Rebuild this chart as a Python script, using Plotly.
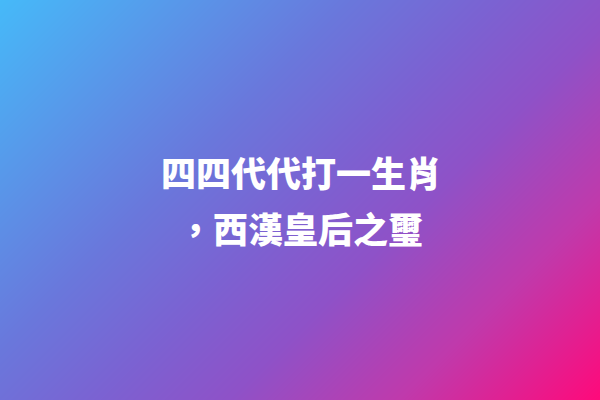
import numpy as np
import plotly.graph_objects as go

W, H = 600, 400

# Title lines (text content)
title_lines = ["四四代代打一生肖", "，西漢皇后之璽"]

# Background gradient stops (position along 135deg diagonal, RGB)
stop_pos = [0.0, 0.35, 0.5, 0.63, 0.8, 1.0]
stop_r = [70, 106, 124, 143, 192, 255]
stop_g = [186, 120, 98, 82, 58, 10]
stop_b = [249, 220, 210, 200, 172, 123]

xs = np.arange(W)
ys = np.arange(H)
X, Y = np.meshgrid(xs, ys)
t = (X + Y) / float(W + H - 2)
img = np.zeros((H, W, 3), dtype=np.uint8)
img[..., 0] = np.interp(t, stop_pos, stop_r).astype(np.uint8)
img[..., 1] = np.interp(t, stop_pos, stop_g).astype(np.uint8)
img[..., 2] = np.interp(t, stop_pos, stop_b).astype(np.uint8)

fig = go.Figure(go.Image(z=img, x0=0, y0=0, dx=1, dy=1, hoverinfo="skip"))

line_y = [171, 227]
for txt, yy in zip(title_lines, line_y):
    fig.add_annotation(
        x=300, y=yy, xref="x", yref="y", text=txt, showarrow=False,
        font=dict(family="Noto Sans CJK TC, Noto Sans CJK SC", size=35, color="white", weight=900),
        xanchor="center", yanchor="middle",
    )

fig.update_layout(
    width=W, height=H,
    margin=dict(l=0, r=0, t=0, b=0),
    paper_bgcolor="#7c62d2",
    plot_bgcolor="#7c62d2",
    xaxis=dict(visible=False, range=[-0.5, W - 0.5], fixedrange=True),
    yaxis=dict(visible=False, range=[H - 0.5, -0.5], fixedrange=True),
    showlegend=False,
)

fig.write_html("out.html", config={"displayModeBar": False, "staticPlot": True},
               post_script="document.body.style.margin='0';document.body.style.overflow='hidden';")
